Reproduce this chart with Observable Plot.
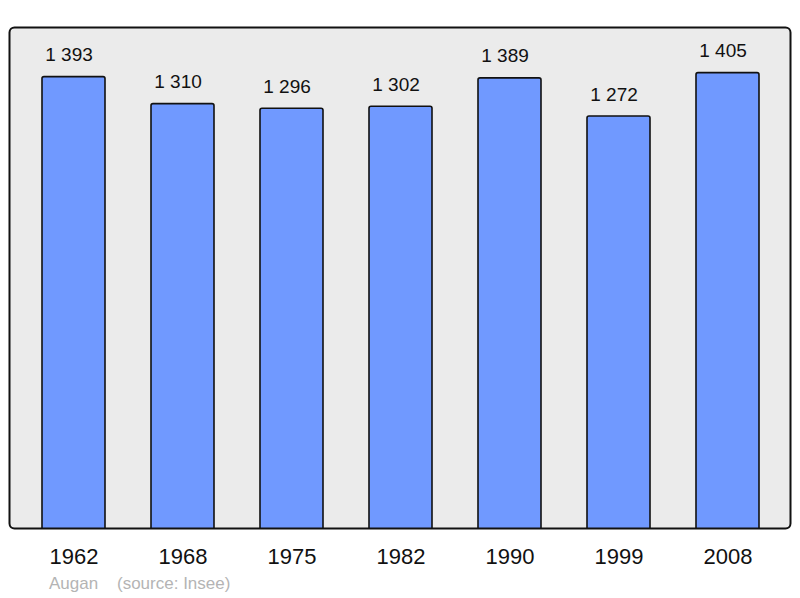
<!DOCTYPE html>
<html>
<head>
<meta charset="utf-8">
<script src="https://cdn.jsdelivr.net/npm/d3@7"></script>
<script src="https://cdn.jsdelivr.net/npm/@observablehq/plot@0.6"></script>
<style>
  html, body { margin: 0; padding: 0; background: #ffffff; }
  #wrap { position: relative; width: 800px; height: 598px; font-family: "Liberation Sans", Arial, sans-serif; }
  #chart { position: absolute; left: 0; top: 0; }
  .cap { position: absolute; top: 574px; font-size: 17px; line-height: 20px; color: #b4b4b4; white-space: nowrap; }
</style>
</head>
<body>
<div id="wrap">
  <div id="chart"></div>
  <span class="cap" style="left:49px">Augan</span>
  <span class="cap" style="left:117px">(source: Insee)</span>
</div>
<script>
const years = ["1962", "1968", "1975", "1982", "1990", "1999", "2008"];
const population = [1393, 1310, 1296, 1302, 1389, 1272, 1405];

const data = years.map((y, i) => ({year: y, value: population[i]}));
const fmt = v => d3.format(",")(v).replace(/,/g, " ");

const chart = Plot.plot({
  width: 800,
  height: 570,
  marginLeft: 9,
  marginRight: 10,
  marginTop: 27,
  marginBottom: 42,
  style: {fontFamily: "'Liberation Sans', Arial, sans-serif", background: "transparent"},
  x: {domain: years, type: "band", range: [17.5, 784], paddingInner: 0.425, paddingOuter: 0.2125, label: null, axis: null},
  y: {domain: [0, 1545], range: [531, 27], axis: null},
  marks: [
    Plot.frame({fill: "#ebebeb", stroke: "none"}),
    Plot.barY(data, {x: "year", y: "value", fill: "#7099ff", stroke: "#111", strokeWidth: 1.6, rx: 2, clip: true}),
    Plot.frame({stroke: "#111", strokeWidth: 2, fill: "none", rx: 5}),
    Plot.text(data, {x: "year", y: "value", text: d => fmt(d.value), dy: -16, dx: -5, lineAnchor: "bottom", fontSize: 19, fill: "#111"}),
    Plot.axisX({tickSize: 0, tickPadding: 20, fontSize: 22, label: null, fill: "#111", color: "#111"})
  ]
});
document.getElementById("chart").appendChild(chart);
</script>
</body>
</html>
